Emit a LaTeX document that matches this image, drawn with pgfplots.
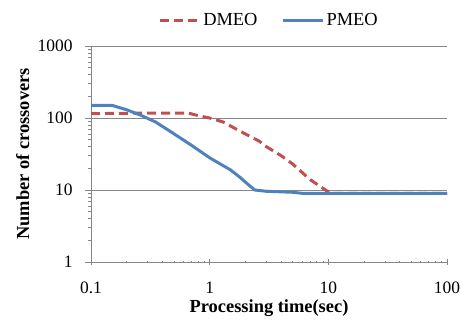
\documentclass[border=0pt]{standalone}
\usepackage{pgfplots}
\pgfplotsset{compat=1.18}
\usepackage{fontspec}
\setmainfont{Liberation Serif}
\definecolor{dred}{RGB}{192,80,77}
\definecolor{pblue}{RGB}{79,129,189}
\definecolor{gridgray}{RGB}{134,134,134}
\begin{document}
\begin{tikzpicture}[x=1bp,y=1bp]
\useasboundingbox (0,0) rectangle (461,320);
\begin{axis}[
  at={(91bp,58bp)}, anchor=south west,
  scale only axis, width=356bp, height=216bp,
  xmode=log, ymode=log,
  xmin=0.1, xmax=100, ymin=1, ymax=1000,
  xtick={0.1,1,10,100}, xticklabels={0.1,1,10,100},
  ytick={1,10,100,1000}, yticklabels={1,10,100,1000},
  minor tick num=0, minor xtick={}, minor ytick={},
  axis x line*=bottom, axis y line*=left,
  axis line style={gridgray, line width=1pt, -},
  ymajorgrids, major grid style={gridgray, line width=0.8pt},
  xtick style={gridgray, line width=0.8pt}, ytick style={gridgray, line width=0.8pt},
  xtick align=center, ytick align=outside,
  major tick length=6bp,
  tick label style={font=\fontsize{17.5}{17.5}\selectfont},
  xticklabel style={yshift=-13bp},
  yticklabel style={xshift=-9bp},
  xlabel={\textbf{Processing time(sec)}},
  ylabel={\textbf{Number of crossovers}},
  label style={font=\fontsize{18.5}{18.5}\selectfont},
  xlabel style={at={(axis description cs:0.5,-0.212)}, anchor=center},
  ylabel style={at={(axis description cs:-0.192,0.5)}, anchor=center},
  legend style={at={(0.5,1.12)}, anchor=center, draw=none, fill=none,
    legend columns=2, font=\fontsize{18.5}{18.5}\selectfont,
    /tikz/every even column/.append style={column sep=22bp}},
  legend image code/.code={\draw[#1] (0bp,0bp) -- (40bp,0bp);},
]
\addplot[dred, line width=3pt, dash pattern=on 9bp off 5bp] coordinates {
(0.1,115) (0.3,117) (0.66,117) (0.8,108) (1,100) (1.3,88) (1.6,73) (2,60)
(2.6,48) (3,40) (4,30) (5,23) (7,14) (10,9.4) (11,9) (100,9)};
\addlegendentry{DMEO}
\addplot[pblue, line width=3pt] coordinates {
(0.1,150) (0.15,150) (0.2,130) (0.26,110) (0.35,88) (0.46,66) (0.7,42) (1,28)
(1.5,19) (1.8,15) (2.1,12) (2.4,10) (3,9.6) (5,9.3) (6,9) (100,9)};
\addlegendentry{PMEO}
\end{axis}
\end{tikzpicture}
\end{document}
